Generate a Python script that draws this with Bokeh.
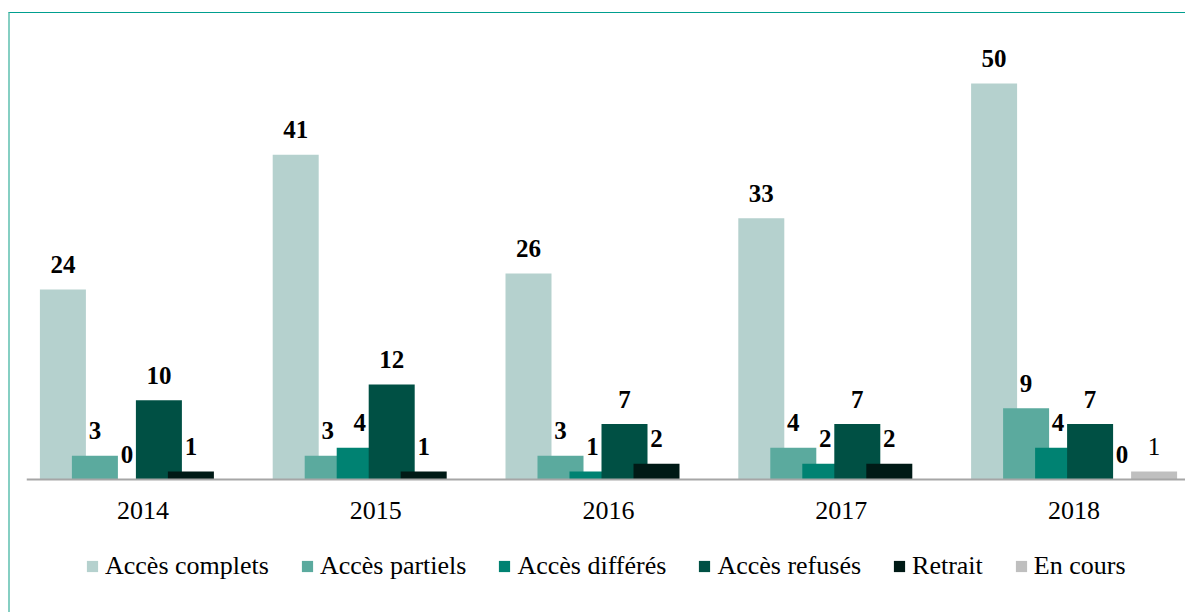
from bokeh.plotting import figure
from bokeh.models import ColumnDataSource, Range1d, FixedTicker, Legend, LegendItem
from bokeh.transform import dodge
from bokeh.core.properties import value
from bokeh.embed import file_html
from bokeh.resources import INLINE

years = ["2014", "2015", "2016", "2017", "2018"]
series_names = ["Accès complets", "Accès partiels", "Accès différés", "Accès refusés", "Retrait", "En cours"]
acces_complets = [24, 41, 26, 33, 50]
acces_partiels = [3, 3, 3, 4, 9]
acces_differes = [0, 4, 1, 2, 4]
acces_refuses = [10, 12, 7, 7, 7]
retrait = [1, 1, 2, 2, 0]
en_cours = [None, None, None, None, 1]
colors = ["#B5D1CE", "#5BAA9E", "#008272", "#005044", "#001A16", "#BFBFBF"]

all_series = [acces_complets, acces_partiels, acces_differes, acces_refuses, retrait, en_cours]

SERIF = "Liberation Serif"
GROUP_PX = 232.8
STEP = 32 / GROUP_PX
BAR_W = 46 / GROUP_PX
LEFT = 16
FRAME_W = 1159
FRAME_H = 599
ABOVE_ZERO_PX = 466
UNIT_PX = 7.92

p = figure(frame_width=FRAME_W, frame_height=FRAME_H,
           output_backend="svg", toolbar_location=None,
           x_range=Range1d(-0.5, -0.5 + FRAME_W / GROUP_PX),
           y_range=Range1d(-(FRAME_H - ABOVE_ZERO_PX) / UNIT_PX, ABOVE_ZERO_PX / UNIT_PX),
           min_border_left=LEFT, min_border_right=0, min_border_top=0, min_border_bottom=0)
p.styles = {"border-top": "1.5px solid #009E8F", "border-left": "2px solid #86CFC3",
            "margin-top": "12px", "margin-left": "8px"}
p.xgrid.visible = False
p.ygrid.visible = False
p.yaxis.visible = False
p.outline_line_color = None
p.background_fill_color = "white"
p.border_fill_color = "white"

xa = p.xaxis[0]
xa.fixed_location = 0
xa.ticker = FixedTicker(ticks=list(range(len(years))))
xa.major_label_overrides = {i: y for i, y in enumerate(years)}
xa.major_tick_line_color = None
xa.minor_tick_line_color = None
xa.axis_line_color = "#A6A6A6"
xa.axis_line_width = 2
xa.major_label_text_font = SERIF
xa.major_label_text_font_size = "26px"
xa.major_label_text_color = "black"
xa.major_label_standoff = 16

items = []
for i, (name, vals, col) in enumerate(zip(series_names, all_series, colors)):
    off = (i - 2.5) * STEP
    xs = list(range(len(years)))
    top = [v if v is not None else float("nan") for v in vals]
    lab = [str(v) if v is not None else "" for v in vals]
    src = ColumnDataSource(dict(x=xs, top=top, lab=lab))
    r = p.vbar(x=dodge("x", off), top="top", width=BAR_W, bottom=0, source=src,
               fill_color=col, line_color=None)
    p.text(x=dodge("x", off), y="top", text="lab", source=src,
           text_font=value(SERIF), text_font_size="25px",
           text_font_style="normal" if name == "En cours" else "bold",
           text_align="center", text_baseline="alphabetic", y_offset=-25,
           text_color="black")
    items.append(LegendItem(label=name, renderers=[r]))

legend = Legend(items=items, orientation="horizontal", location=(59, 31))
legend.glyph_width = 14
legend.glyph_height = 14
legend.label_standoff = 6
legend.spacing = 31
legend.padding = 0
legend.margin = 0
legend.border_line_color = None
legend.background_fill_alpha = 0
legend.label_text_font = "Times"
legend.label_text_font_size = "26px"
legend.label_text_color = "black"
legend.label_text_baseline = "middle"
p.add_layout(legend)

open("out.html", "w").write(file_html(p, INLINE))
